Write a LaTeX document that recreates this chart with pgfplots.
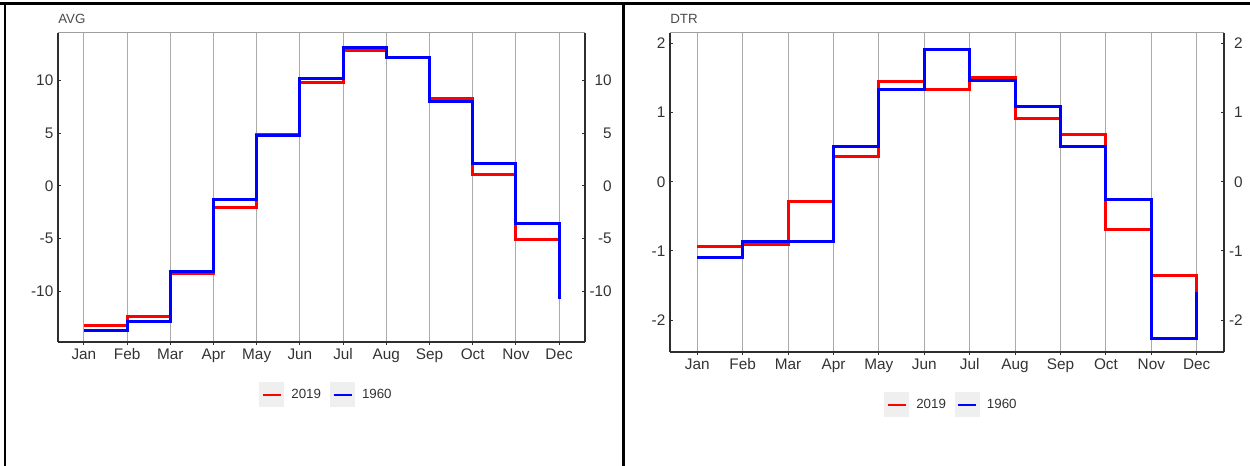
\documentclass[border=0pt]{standalone}
\usepackage{fontspec}
\setmainfont{Liberation Sans}
\usepackage{pgfplots}
\pgfplotsset{compat=1.18}

\definecolor{ticktext}{HTML}{333333}
\definecolor{titlegray}{HTML}{4A4A4A}
\definecolor{gridgray}{HTML}{ABABAB}
\definecolor{axisdark}{HTML}{2E2E2E}
\definecolor{keybg}{HTML}{EFEFEF}

% monthly means: AVG and DTR, 2019 against 1960
\pgfplotstableread{
m  avgA    avgB   dtrA   dtrB
1  -13.2  -13.7  -0.93  -1.09
2  -12.4  -12.9  -0.90  -0.87
3  -8.3   -8.1   -0.28  -0.87
4  -2.05  -1.33   0.37   0.51
5   4.9    4.8    1.45   1.34
6   9.8   10.2    1.33   1.91
7  12.8   13.1    1.50   1.46
8  12.15  12.15   0.92   1.09
9   8.25   8.0    0.69   0.51
10  1.05   2.15  -0.69  -0.26
11 -5.05  -3.6   -1.35  -2.27
12 -10.7  -10.7  -1.59  -1.59
}\monthly

\pgfplotsset{
  monthpanel/.style={
    scale only axis,
    xmin=0.4, xmax=12.6,
    xtick={1,...,12},
    xticklabels={Jan,Feb,Mar,Apr,May,Jun,Jul,Aug,Sep,Oct,Nov,Dec},
    axis x line*=bottom,
    axis y line*=left,
    xmajorgrids,
    major grid style={gridgray, line width=0.8pt},
    tick align=inside,
    major tick length=2.25pt,
    xtick style={yshift=-2.25pt, axisdark, line width=0.75pt},
    ytick style={axisdark, line width=0.75pt},
    axis line style={axisdark, line width=1.1pt},
    ticklabel style={font=\fontsize{11.5}{13}\selectfont, text=ticktext},
    xticklabel style={text height=8.4pt, text depth=2.6pt, yshift=-1pt},
    /pgf/number format/assume math mode=true,
    title style={at={(0,1)}, anchor=base west, yshift=0.8pt, inner sep=0pt,
      font=\fontsize{10}{11}\selectfont, text=titlegray},
    legend columns=2,
    legend style={anchor=center, draw=none, fill=none, inner sep=0pt, outer sep=0pt,
      nodes={inner sep=0pt, font=\fontsize{10}{12}\selectfont, text=ticktext},
      /tikz/every odd column/.append style={column sep=5.25pt},
      /tikz/every even column/.append style={column sep=6.75pt}},
    legend image code/.code={
      \fill[keybg] (0pt,-8.25pt) rectangle (16.5pt,8.25pt);
      \draw[line width=1.9pt] (1.5pt,0pt) -- (15pt,0pt);
    },
    every axis plot/.append style={const plot mark left, line width=2.25pt, mark=none},
  },
  rightlabels/.style={
    scale only axis,
    xmin=0.4, xmax=12.6,
    axis x line=none,
    axis y line*=right,
    tick align=inside,
    major tick length=2.25pt,
    ytick style={axisdark, line width=0.75pt},
    axis line style={axisdark, line width=1.1pt},
    ticklabel style={font=\fontsize{11.5}{13}\selectfont, text=ticktext},
    /pgf/number format/assume math mode=true,
  },
}

\begin{document}
\begin{tikzpicture}
\path[use as bounding box] (0pt,0pt) rectangle (937.5pt,349.5pt);

% table rules around the two panels
\draw[black, line width=2.25pt] (0pt,346.5pt) -- (937.5pt,346.5pt);
\draw[black, line width=1.5pt] (3.75pt,0pt) -- (3.75pt,347.3pt);
\draw[black, line width=2.25pt] (467.8pt,0pt) -- (467.8pt,347.3pt);

% ---- AVG panel ----
\begin{axis}[monthpanel,
  at={(43.5pt,93pt)}, anchor=south west,
  width=395.25pt, height=231.75pt,
  ymin=-14.8, ymax=14.5,
  ytick={-10,-5,0,5,10},
  title={AVG},
  legend style={at={(0.5076,-0.1715)}},
]
\draw[gray!75, line width=0.75pt] (rel axis cs:0,1) -- (rel axis cs:1,1);
\addplot[red] table[x=m, y=avgA] {\monthly};
\addlegendentry{2019}
\addplot[blue] table[x=m, y=avgB] {\monthly};
\addlegendentry{1960}
\end{axis}
\begin{axis}[rightlabels,
  at={(43.5pt,93pt)}, anchor=south west,
  width=395.25pt, height=231.75pt,
  ymin=-14.8, ymax=14.5,
  ytick={-10,-5,0,5,10},
  yticklabel style={anchor=east, inner sep=0pt, xshift=20.25pt},
]
\end{axis}

% ---- DTR panel ----
\begin{axis}[monthpanel,
  at={(502.5pt,85.5pt)}, anchor=south west,
  width=415.5pt, height=239.25pt,
  ymin=-2.46, ymax=2.15,
  ytick={-2,-1,0,1,2},
  title={DTR},
  legend style={at={(0.5063,-0.166)}},
]
\draw[gray!75, line width=0.75pt] (rel axis cs:0,1) -- (rel axis cs:1,1);
\addplot[red] table[x=m, y=dtrA] {\monthly};
\addlegendentry{2019}
\addplot[blue] table[x=m, y=dtrB] {\monthly};
\addlegendentry{1960}
\end{axis}
\begin{axis}[rightlabels,
  at={(502.5pt,85.5pt)}, anchor=south west,
  width=415.5pt, height=239.25pt,
  ymin=-2.46, ymax=2.15,
  ytick={-2,-1,0,1,2},
  yticklabel style={anchor=east, inner sep=0pt, xshift=14.25pt},
]
\end{axis}
\end{tikzpicture}
\end{document}
